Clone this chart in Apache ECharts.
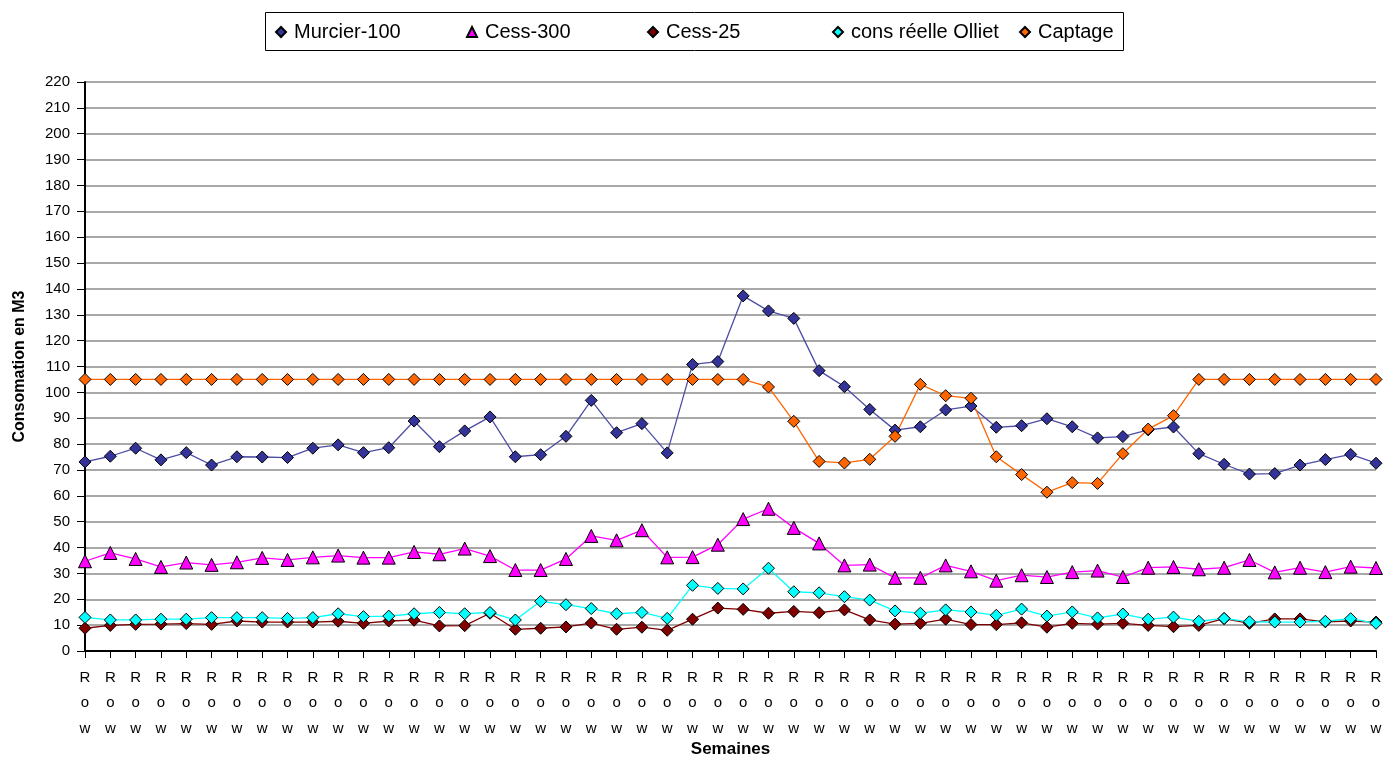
<!DOCTYPE html>
<html><head><meta charset="utf-8">
<script src="https://cdn.jsdelivr.net/npm/echarts@6/dist/echarts.min.js"></script>
<style>html,body{margin:0;padding:0;background:#fff}#c{width:1390px;height:758px}</style>
</head><body><div id="c"></div>
<script>
const categories = Array.from({length: 52}, () => 'Row');
const murcier100 = [73.1,75.3,78.4,73.9,76.7,71.9,75.1,75.0,74.8,78.4,79.7,76.7,78.6,88.9,79.0,85.1,90.5,75.1,75.9,83.0,96.9,84.4,87.9,76.6,110.8,111.9,137.3,131.5,128.6,108.4,102.2,93.4,85.4,86.7,93.2,94.7,86.5,87.1,89.8,86.7,82.4,82.9,85.5,86.6,76.3,72.2,68.4,68.6,71.9,74.0,76.0,72.6];
const cess300 = [34.7,37.9,35.6,32.5,34.2,33.3,34.3,36.0,35.2,36.2,36.9,36.1,36.1,38.3,37.4,39.6,36.7,31.3,31.3,35.6,44.5,42.8,46.7,36.2,36.3,41.1,51.0,55.0,47.6,41.6,33.1,33.4,28.3,28.3,33.1,30.8,27.2,29.3,28.6,30.5,31.1,28.6,32.2,32.5,31.6,32.2,35.2,30.4,32.2,30.5,32.6,32.1];
const cess25 = [8.8,9.9,10.3,10.4,10.6,10.3,11.6,11.2,11.2,11.2,11.5,10.7,11.6,11.9,9.7,9.8,14.6,8.4,8.8,9.3,10.8,8.4,9.2,8.0,12.3,16.6,16.1,14.6,15.3,14.8,15.9,12.0,10.4,10.7,12.3,10.2,10.2,10.9,9.2,10.7,10.4,10.7,9.9,9.4,9.9,12.5,10.7,12.4,12.4,11.3,11.6,11.2];
const consOlliet = [13.0,12.0,12.0,12.3,12.3,12.9,12.9,12.9,12.6,12.9,14.4,13.3,13.5,14.4,14.9,14.4,14.9,12.0,19.2,17.9,16.4,14.4,14.9,12.6,25.4,24.2,24.0,32.0,22.9,22.5,21.0,19.7,15.5,14.6,15.9,15.1,13.8,16.2,13.5,15.1,12.8,14.3,12.3,13.1,11.5,12.6,11.3,11.2,11.2,11.5,12.5,10.7];
const captage = [105,105,105,105,105,105,105,105,105,105,105,105,105,105,105,105,105,105,105,105,105,105,105,105,105,105,105,102.1,88.8,73.3,72.7,74.1,83.0,103.1,98.7,97.7,75.1,68.2,61.4,65.1,64.8,76.3,85.8,91.0,105,105,105,105,105,105,105,105];
const yTicks = {min: 0, max: 220, interval: 10};

const seriesDefs = [
  {name: 'Murcier-100', data: murcier100, color: '#333399', line: '#4d4da6', symbol: 'diamond', size: 12},
  {name: 'Cess-300', data: cess300, color: '#FF00FF', line: '#FF00FF', symbol: 'triangle', size: 13},
  {name: 'Cess-25', data: cess25, color: '#800000', line: '#800000', symbol: 'diamond', size: 12},
  {name: 'cons réelle Olliet', data: consOlliet, color: '#00FFFF', line: '#00FFFF', symbol: 'diamond', size: 12},
  {name: 'Captage', data: captage, color: '#FF6600', line: '#FF6600', symbol: 'diamond', size: 12}
];
const legendLefts = [270, 461, 642, 827, 1014];

const chart = echarts.init(document.getElementById('c'), null, {renderer: 'canvas'});
const font = 'Liberation Sans, Arial, sans-serif';
chart.setOption({
  animation: false,
  backgroundColor: '#fff',
  textStyle: {fontFamily: font},
  graphic: [{type: 'rect', left: 263, top: 10, shape: {width: 858, height: 38}, style: {fill: 'none', stroke: '#000', lineWidth: 1}}],
  legend: seriesDefs.map((s, i) => ({
    data: [{name: s.name, icon: s.symbol}],
    left: legendLefts[i], top: 17, itemWidth: 10, itemHeight: 10, itemGap: 0,
    textStyle: {fontSize: 20, color: '#000', fontFamily: font, padding: [0, 0, 0, 3]},
    selectedMode: false
  })),
  grid: {left: 85, right: 14, top: 82, bottom: 107, containLabel: false, outerBoundsMode: 'none'},
  xAxis: {
    type: 'category', data: categories, boundaryGap: false,
    name: 'Semaines', nameLocation: 'middle', nameGap: 90, nameMoveOverlap: false,
    nameTextStyle: {fontSize: 17, fontWeight: 'bold', color: '#000'},
    axisLine: {lineStyle: {color: '#000', width: 2}},
    axisTick: {show: true, length: 7, lineStyle: {color: '#000'}, interval: 0},
    axisLabel: {interval: 0, formatter: v => v.split('').join('\n'), fontSize: 15, color: '#000', lineHeight: 25.5, margin: 14},
    splitLine: {show: false}
  },
  yAxis: {
    type: 'value', min: yTicks.min, max: yTicks.max, interval: yTicks.interval,
    name: 'Consomation en M3', nameLocation: 'middle', nameGap: 57, nameRotate: 90, nameMoveOverlap: false,
    nameTextStyle: {fontSize: 16, fontWeight: 'bold', color: '#000'},
    axisLine: {show: true, lineStyle: {color: '#000', width: 2}},
    axisTick: {show: true, length: 8, lineStyle: {color: '#000'}},
    axisLabel: {fontSize: 15, color: '#000', margin: 15},
    splitLine: {lineStyle: {color: '#a8a8a8', width: 2}}
  },
  series: seriesDefs.map(s => ({
    name: s.name, type: 'line', data: s.data,
    symbol: s.symbol, symbolSize: s.size, showAllSymbol: true,
    lineStyle: {color: s.line, width: 1.3},
    itemStyle: {color: s.color, borderColor: '#000', borderWidth: 1},
    emphasis: {disabled: true}
  }))
});
</script></body></html>
